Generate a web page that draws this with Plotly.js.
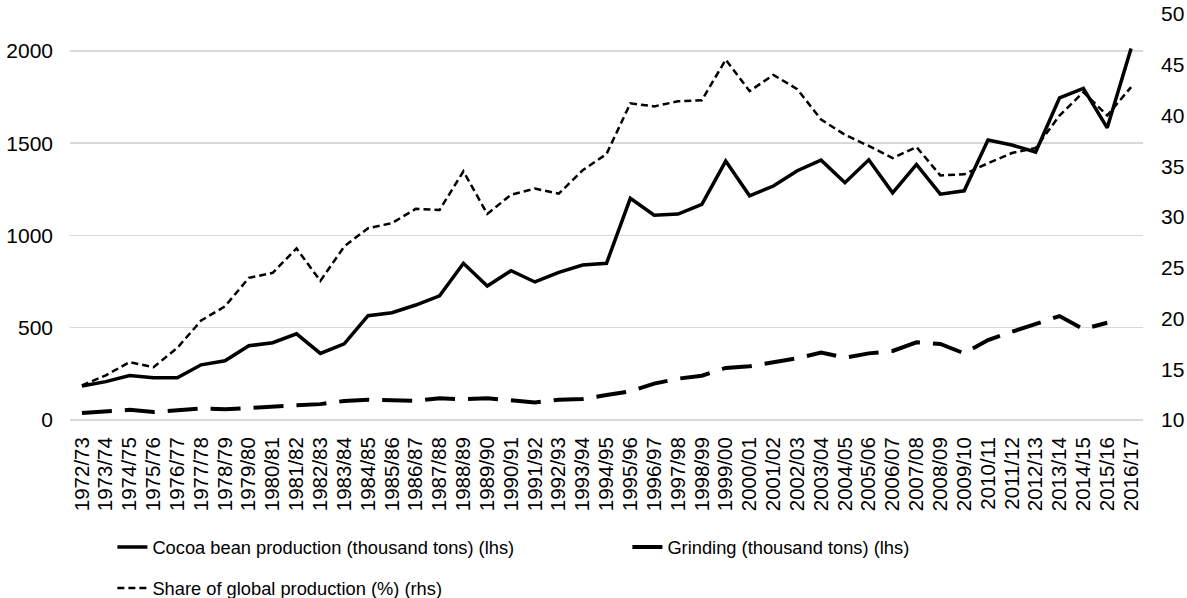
<!DOCTYPE html>
<html>
<head>
<meta charset="utf-8">
<script src="https://cdn.plot.ly/plotly-3.0.1.min.js"></script>
<style>
  html, body { margin: 0; padding: 0; background: #fff; }
  #chart { width: 1187px; height: 598px; }
</style>
</head>
<body>
<div id="chart"></div>
<script>
const seasons = [
  "1972/73","1973/74","1974/75","1975/76","1976/77","1977/78","1978/79","1979/80","1980/81","1981/82",
  "1982/83","1983/84","1984/85","1985/86","1986/87","1987/88","1988/89","1989/90","1990/91","1991/92",
  "1992/93","1993/94","1994/95","1995/96","1996/97","1997/98","1998/99","1999/00","2000/01","2001/02",
  "2002/03","2003/04","2004/05","2005/06","2006/07","2007/08","2008/09","2009/10","2010/11","2011/12",
  "2012/13","2013/14","2014/15","2015/16","2016/17"
];

const production = [
  184, 208, 241, 229, 229, 299, 321, 402, 419, 467,
  361, 413, 565, 581, 623, 673, 849, 726, 809, 748,
  800, 840, 849, 1201, 1110, 1116, 1168, 1403, 1215, 1268,
  1351, 1408, 1286, 1410, 1231, 1385, 1224, 1242, 1517, 1490,
  1452, 1746, 1797, 1583, 2013
];

const grinding = [
  38, 45, 55, 43, 52, 62, 58, 67, 72, 80,
  86, 103, 110, 105, 104, 118, 112, 118, 108, 95,
  110, 114, 135, 155, 197, 224, 240, 282, 291, 313,
  335, 365, 338, 361, 374, 421, 412, 361, 433, 478,
  520, 563, 493, 527, null
];

const share = [
  13.4, 14.4, 15.7, 15.2, 17.1, 19.8, 21.2, 24.0, 24.5, 26.9,
  23.7, 27.1, 28.9, 29.4, 30.8, 30.7, 34.5, 30.3, 32.2, 32.8,
  32.3, 34.6, 36.2, 41.2, 40.9, 41.4, 41.5, 45.5, 42.4, 44.0,
  42.6, 39.6, 38.1, 37.0, 35.8, 36.9, 34.1, 34.2, 35.3, 36.3,
  36.8, 40.0, 42.3, 40.0, 42.8
];

const seriesNames = [
  "Cocoa bean production (thousand tons) (lhs)",
  "Grinding (thousand tons) (lhs)",
  "Share of global production (%) (rhs)"
];

const leftTicks = [0, 500, 1000, 1500, 2000];
const rightTicks = [10, 15, 20, 25, 30, 35, 40, 45, 50];

const FONT = "Liberation Sans, Arial, sans-serif";

const traces = [
  {
    x: seasons, y: production, name: seriesNames[0], type: "scatter", mode: "lines",
    line: { color: "#000000", width: 3.5 }, yaxis: "y", legend: "legend"
  },
  {
    x: seasons, y: grinding, name: seriesNames[1], type: "scatter", mode: "lines",
    line: { color: "#000000", width: 4, dash: "30px,13px" }, yaxis: "y", legend: "legend",
    connectgaps: false
  },
  {
    x: seasons, y: share, name: seriesNames[2], type: "scatter", mode: "lines",
    line: { color: "#000000", width: 2.5, dash: "7px,4px" }, yaxis: "y2", legend: "legend2"
  }
];

const layout = {
  width: 1187, height: 598,
  margin: { l: 70, r: 44, t: 14, b: 178, pad: 0, autoexpand: false },
  paper_bgcolor: "#ffffff", plot_bgcolor: "#ffffff",
  font: { family: FONT, size: 21, color: "#000000" },
  showlegend: true,
  xaxis: {
    type: "category",
    range: [-0.5, seasons.length - 0.5],
    tickmode: "array", tickvals: seasons, ticktext: seasons,
    tickangle: -90,
    ticks: "", showgrid: false, zeroline: false, showline: false,
    tickfont: { family: FONT, size: 20.5, color: "#000000" },
    ticklabelstandoff: 12,
    automargin: false
  },
  yaxis: {
    range: [0, 2200],
    tickvals: leftTicks,
    ticks: "", showline: false,
    showgrid: true, gridcolor: "#d9d9d9", gridwidth: 1.5,
    zeroline: true, zerolinecolor: "#d9d9d9", zerolinewidth: 1.5,
    tickfont: { family: FONT, size: 21, color: "#000000" },
    ticklabelstandoff: 16,
    automargin: false
  },
  yaxis2: {
    overlaying: "y", side: "right",
    range: [10, 50],
    tickvals: rightTicks,
    ticks: "", showline: false, showgrid: false, zeroline: false,
    tickfont: { family: FONT, size: 21, color: "#000000" },
    ticklabelstandoff: 17,
    automargin: false
  },
  legend: {
    orientation: "h",
    x: 0.0395, xanchor: "left",
    y: -0.313, yanchor: "middle",
    font: { family: FONT, size: 18.3, color: "#000000" },
    bgcolor: "rgba(0,0,0,0)",
    entrywidth: 470, entrywidthmode: "pixels"
  },
  legend2: {
    orientation: "h",
    x: 0.0395, xanchor: "left",
    y: -0.414, yanchor: "middle",
    font: { family: FONT, size: 18.3, color: "#000000" },
    bgcolor: "rgba(0,0,0,0)"
  }
};

Plotly.newPlot("chart", traces, layout, { displayModeBar: false, staticPlot: true });
</script>
</body>
</html>
